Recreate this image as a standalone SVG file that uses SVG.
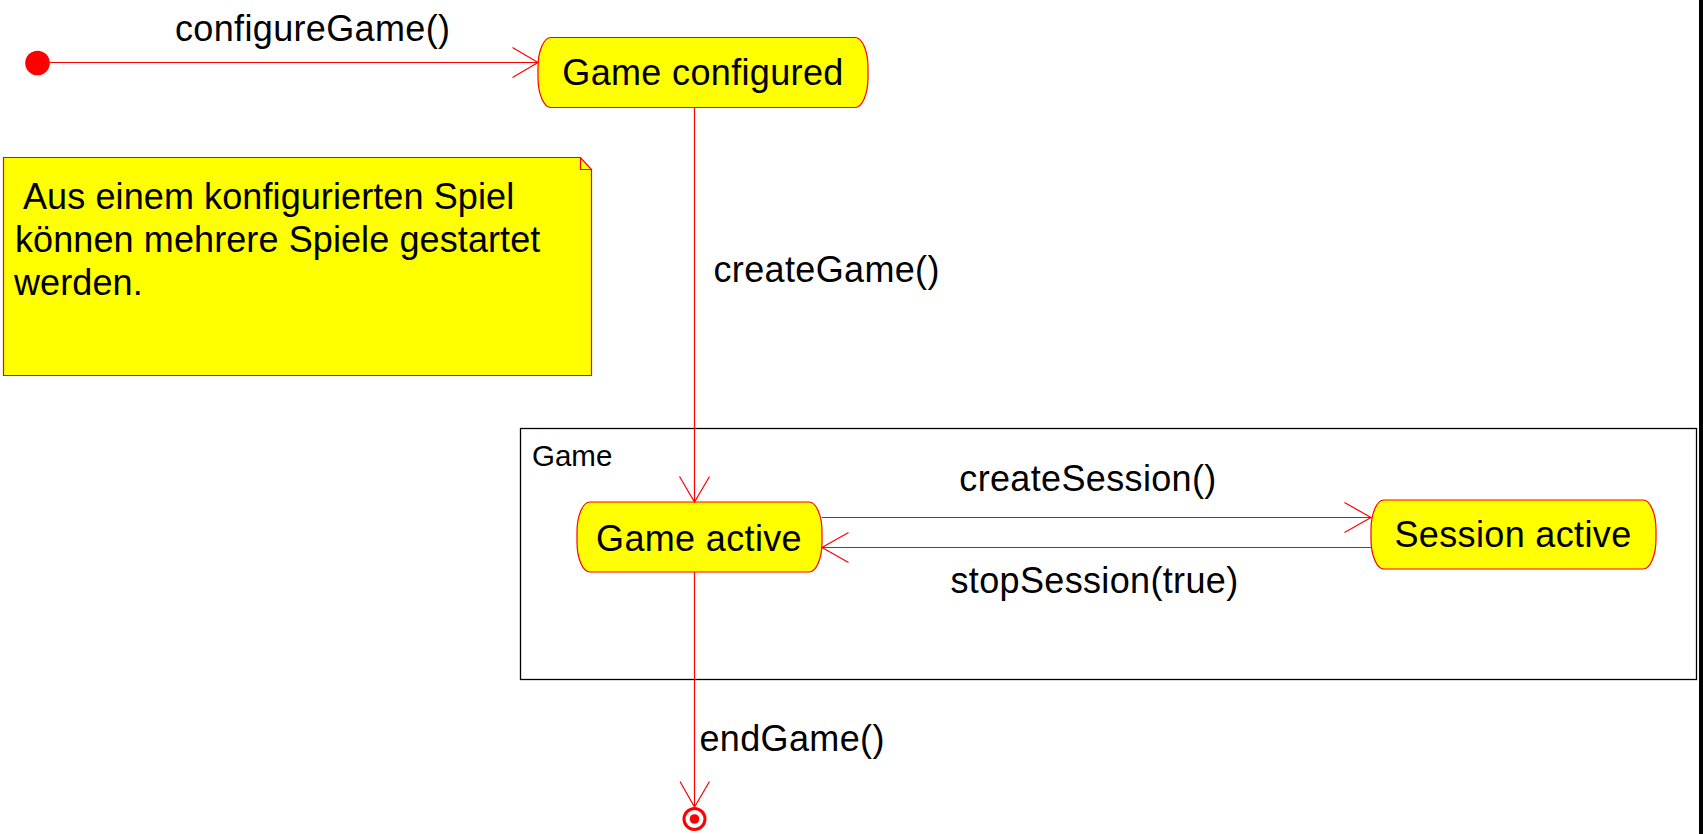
<svg xmlns="http://www.w3.org/2000/svg" width="1703" height="834" viewBox="0 0 1703 834">
<style>
.st{fill:#FFFF00;stroke:#FF0000;stroke-width:1.2}
.t{font-family:"Liberation Sans",Arial,sans-serif;font-size:36px;letter-spacing:0.35px;fill:#000}
.c{stroke:#FF0000;stroke-width:1.2;fill:none}
</style>
<rect x="0" y="0" width="1703" height="834" fill="#FFFFFF"/>
<rect x="1699" y="0" width="4" height="834" fill="#000000"/>
<g id="frame-game">
<rect x="520.5" y="428.5" width="1176" height="251" fill="none" stroke="#000000" stroke-width="1.3"/>
<text x="532" y="466" class="t" style="font-size:29.5px;letter-spacing:0">Game</text>
</g>
<g id="initial">
<circle cx="37.5" cy="63" r="12.3" fill="#FF0000"/>
</g>
<g id="note">
<path d="M3.5,157.5 H580.5 L591.5,169.5 V375.5 H3.5 Z" fill="#FFFF00" stroke="#FF0000" stroke-width="1.2"/>
<path d="M580.5,157.5 V169.5 H591.5" fill="none" stroke="#FF0000" stroke-width="1.2"/>
<text class="t" style="letter-spacing:0.1px"><tspan x="23" y="209">Aus einem konfigurierten Spiel</tspan><tspan x="15" y="252">können mehrere Spiele gestartet</tspan><tspan x="14" y="295">werden.</tspan></text>
</g>
<g id="game-configured">
<rect x="538" y="37.5" width="330" height="70" rx="13" ry="30" class="st"/>
<text x="703" y="85" class="t" text-anchor="middle">Game configured</text>
</g>
<g id="game-active">
<rect x="577" y="502" width="245" height="70" rx="13" ry="30" class="st"/>
<text x="699" y="551" class="t" text-anchor="middle">Game active</text>
</g>
<g id="session-active">
<rect x="1371" y="500" width="285" height="69" rx="13" ry="30" class="st"/>
<text x="1513" y="547" class="t" text-anchor="middle">Session active</text>
</g>
<g id="final">
<circle cx="694.5" cy="819" r="10.5" fill="none" stroke="#FF0000" stroke-width="3"/>
<circle cx="694.5" cy="819" r="4.8" fill="#FF0000"/>
</g>
<g id="connectors">
<path class="c" d="M50,62.5 H538 M512.5,47.5 L538,62.5 L512.5,77.5"/>
<text x="175" y="41" class="t">configureGame()</text>
<path class="c" d="M694.5,107.5 V502 M679.5,476.5 L694.5,502 L709.5,476.5"/>
<text x="713.5" y="282" class="t">createGame()</text>
<path class="c" d="M822,517.5 H1371 M1344.5,502.5 L1371,517.5 L1344.5,532.5"/>
<text x="1088" y="491" class="t" text-anchor="middle">createSession()</text>
<path class="c" d="M1371,547.5 H822 M848.5,532.5 L822,547.5 L848.5,562.5"/>
<text x="1094.5" y="593" class="t" text-anchor="middle">stopSession(true)</text>
<path class="c" d="M694.5,572 V807 M680,781.5 L694.5,807 L709.5,781.5"/>
<text x="699.5" y="751" class="t">endGame()</text>
</g>
</svg>
